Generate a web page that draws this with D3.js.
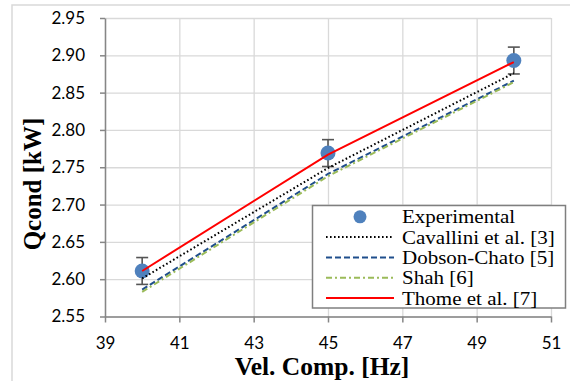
<!DOCTYPE html>
<html>
<head>
<meta charset="utf-8">
<script src="https://cdn.jsdelivr.net/npm/d3@7"></script>
<style>
  html, body { margin: 0; padding: 0; background: #fff; }
  svg { display: block; }
</style>
</head>
<body>
<svg id="chart" width="570" height="381"></svg>
<script>
// ---- data ----
const xValues = [40, 45, 50];
const experimental = [2.611, 2.769, 2.893];
const expError = [0.018, 0.018, 0.018];
const cavallini = [2.601, 2.749, 2.876];
const dobsonChato = [2.586, 2.741, 2.866];
const shah = [2.583, 2.738, 2.864];
const thome = [2.611, 2.767, 2.891];
const xTicks = [39, 41, 43, 45, 47, 49, 51];
const yTicks = [2.55, 2.60, 2.65, 2.70, 2.75, 2.80, 2.85, 2.90, 2.95];
const legendLabels = ["Experimental", "Cavallini et al. [3]", "Dobson-Chato [5]", "Shah [6]", "Thome et al. [7]"];
const xTitle = "Vel. Comp. [Hz]";
const yTitle = "Qcond [kW]";

// ---- layout ----
const svg = d3.select("#chart");
const L = 105, R = 551, T = 18, B = 316.5;
const x = d3.scaleLinear().domain([39, 51]).range([L, R]);
const y = d3.scaleLinear().domain([2.55, 2.95]).range([B, T]);

// outer chart border
svg.append("rect").attr("x", 12).attr("y", 5).attr("width", 600).attr("height", 400)
  .attr("fill", "#fff").attr("stroke", "#d9d9d9").attr("stroke-width", 1.5);

// gridlines
const gridY = svg.append("g").attr("transform", `translate(${L},0)`)
  .call(d3.axisLeft(y).tickValues(yTicks).tickSize(-(R - L)).tickFormat(""));
gridY.select(".domain").remove();
gridY.selectAll("line").attr("stroke", "#d9d9d9").attr("stroke-width", 1.3);
const gridX = svg.append("g").attr("transform", `translate(0,${B})`)
  .call(d3.axisBottom(x).tickValues(xTicks).tickSize(-(B - T)).tickFormat(""));
gridX.select(".domain").remove();
gridX.selectAll("line").attr("stroke", "#d9d9d9").attr("stroke-width", 1.3);

// axes
const yAxis = svg.append("g").attr("transform", `translate(${L},0)`)
  .call(d3.axisLeft(y).tickValues(yTicks).tickSize(5).tickPadding(15).tickFormat(d3.format(".2f")).tickSizeOuter(0));
const xAxis = svg.append("g").attr("transform", `translate(0,${B})`)
  .call(d3.axisBottom(x).tickValues(xTicks).tickSize(6).tickPadding(14).tickFormat(d3.format("d")).tickSizeOuter(0));
[yAxis, xAxis].forEach(g => {
  g.select(".domain").attr("stroke", "#868686").attr("stroke-width", 1.5);
  g.selectAll(".tick line").attr("stroke", "#868686").attr("stroke-width", 1.5);
  g.selectAll("text").attr("font-family", "Lato, 'Open Sans', sans-serif").attr("font-size", 17).attr("fill", "#000");
});

// axis titles
svg.append("text").attr("x", 322).attr("y", 375).attr("text-anchor", "middle")
  .attr("font-family", "'Liberation Serif', 'Times New Roman', serif").attr("font-weight", "bold")
  .attr("font-size", 25.5).text(xTitle);
svg.append("text").attr("transform", "translate(41,184) rotate(-90)").attr("text-anchor", "middle")
  .attr("font-family", "'Liberation Serif', 'Times New Roman', serif").attr("font-weight", "bold")
  .attr("font-size", 25).text(yTitle);

// experimental points + error bars
const expData = xValues.map((v, i) => ({ x: v, y: experimental[i], e: expError[i] }));
const eb = svg.append("g").attr("stroke", "#555555").attr("stroke-width", 1.6);
expData.forEach(d => {
  eb.append("line").attr("x1", x(d.x)).attr("x2", x(d.x)).attr("y1", y(d.y - d.e)).attr("y2", y(d.y + d.e));
  eb.append("line").attr("x1", x(d.x) - 6).attr("x2", x(d.x) + 6).attr("y1", y(d.y - d.e)).attr("y2", y(d.y - d.e));
  eb.append("line").attr("x1", x(d.x) - 6).attr("x2", x(d.x) + 6).attr("y1", y(d.y + d.e)).attr("y2", y(d.y + d.e));
});
svg.append("g").selectAll("circle").data(expData).join("circle")
  .attr("cx", d => x(d.x)).attr("cy", d => y(d.y)).attr("r", 7.5).attr("fill", "#4f81bd");

// model lines
const series = [
  { vals: cavallini, color: "#000000", dash: "1.6,2.4", width: 2 },
  { vals: dobsonChato, color: "#1f4e8c", dash: "6,3", width: 2 },
  { vals: shah, color: "#9bbb59", dash: "6,3,2,3", width: 2 },
  { vals: thome, color: "#ff0000", dash: null, width: 2 }
];
const line = d3.line().x(d => x(d[0])).y(d => y(d[1]));
series.forEach(s => {
  svg.append("path").datum(xValues.map((v, i) => [v, s.vals[i]]))
    .attr("d", line).attr("fill", "none").attr("stroke", s.color)
    .attr("stroke-width", s.width).attr("stroke-dasharray", s.dash);
});

// legend
const lg = svg.append("g");
lg.append("rect").attr("x", 312.5).attr("y", 205.5).attr("width", 253).attr("height", 102.5)
  .attr("fill", "#fff").attr("stroke", "#7f7f7f").attr("stroke-width", 1.5);
const rowBase = [223.3, 243.6, 263.9, 284.2, 304.5];
legendLabels.forEach((lab, i) => {
  const t = lg.append("text").attr("x", 402).attr("y", rowBase[i])
    .attr("font-family", "'Liberation Serif', 'Times New Roman', serif").attr("font-size", 21)
    .attr("fill", "#000").text(lab);
  // keep the reference width but a line height that fits the row spacing
  const w = t.node().getComputedTextLength();
  t.attr("font-size", 18).attr("textLength", w).attr("lengthAdjust", "spacingAndGlyphs");
  const cy = rowBase[i] - 6.5;
  if (i === 0) {
    lg.append("circle").attr("cx", 360).attr("cy", cy).attr("r", 6.5).attr("fill", "#4f81bd");
  } else {
    const s = series[i - 1];
    lg.append("line").attr("x1", 326).attr("x2", 394).attr("y1", cy).attr("y2", cy)
      .attr("stroke", s.color).attr("stroke-width", s.width).attr("stroke-dasharray", s.dash);
  }
});
</script>
</body>
</html>
